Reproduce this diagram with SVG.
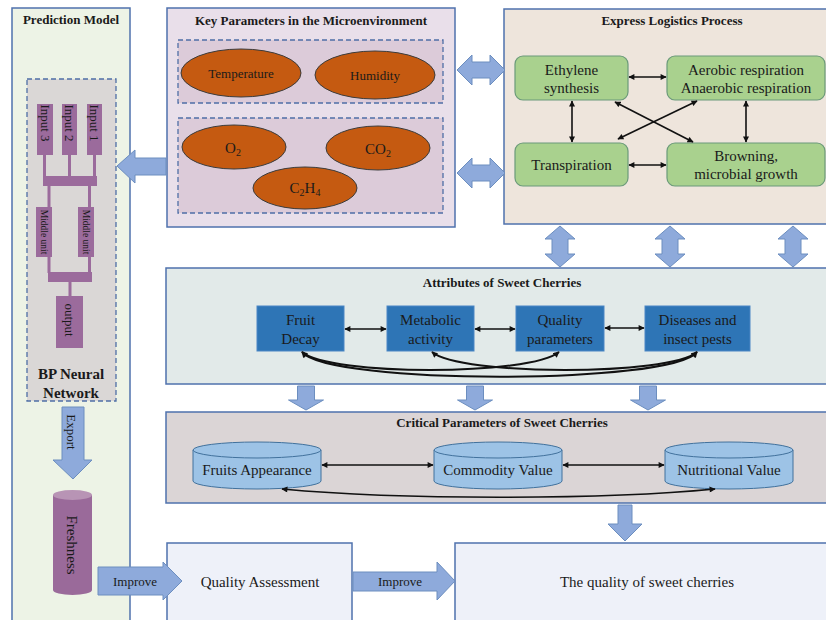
<svg xmlns="http://www.w3.org/2000/svg" width="826" height="620" viewBox="0 0 826 620" font-family="'Liberation Serif', 'Times New Roman', serif">
  <defs>
    <marker id="ah" viewBox="0 0 10 10" refX="9" refY="5" markerWidth="7" markerHeight="6" markerUnits="userSpaceOnUse" orient="auto-start-reverse">
      <path d="M0,0 L10,5 L0,10 z" fill="#111"/>
    </marker>
    <style>
      text { font-family: 'Liberation Serif', 'Times New Roman', serif; fill: #1a1a1a; }
      .title { font-size: 13px; font-weight: bold; text-anchor: middle; }
      .lbl { font-size: 15px; text-anchor: middle; dominant-baseline: central; }
      .sm { font-size: 13px; text-anchor: middle; dominant-baseline: central; }
      .panel { stroke: #4f72ad; stroke-width: 1.5; }
      .dash { stroke: #4f6fa6; stroke-width: 1.3; stroke-dasharray: 5 3; }
      .oval { fill: #c55a11; stroke: #3b3b3b; stroke-width: 1; }
      .green { fill: #a9d18e; stroke: #6b9a7a; stroke-width: 1.2; }
      .blue { fill: #2e75b6; stroke: #4a86c5; stroke-width: 1; }
      .cyl { fill: #9dc3e6; stroke: #41719c; stroke-width: 1; }
      .purple { fill: #9b6b9c; }
      .block { fill: #8eaadb; stroke: #6c8ebf; stroke-width: 1; }
      .link { fill: none; stroke: #111; stroke-width: 1.6; marker-start: url(#ah); marker-end: url(#ah); }
      .curve { fill: none; stroke: #111; stroke-width: 2; marker-start: url(#ah); marker-end: url(#ah); }
    </style>
  </defs>

  <rect width="826" height="620" fill="#ffffff"/>

  <!-- Left column: prediction model -->
  <g id="prediction-model">
    <rect class="panel" x="12" y="8" width="118" height="625" fill="#edf3e6"/>
    <text class="title" x="71" y="24">Prediction Model</text>
  </g>

  <g id="bp-network">
    <rect class="dash" x="27" y="79" width="89" height="322" fill="#dad7d6"/>
    <!-- inputs -->
    <rect class="purple" x="37" y="104" width="16" height="51"/>
    <rect class="purple" x="62" y="104" width="15" height="51"/>
    <rect class="purple" x="87" y="104" width="15" height="51"/>
    <text class="sm" transform="translate(45,123) rotate(90)">Input 3</text>
    <text class="sm" transform="translate(69.5,123) rotate(90)">Input 2</text>
    <text class="sm" transform="translate(94.5,123) rotate(90)">Input 1</text>
    <!-- stems into first bar -->
    <rect class="purple" x="43" y="155" width="3" height="22"/>
    <rect class="purple" x="68" y="155" width="3" height="22"/>
    <rect class="purple" x="93" y="155" width="3" height="22"/>
    <rect class="purple" x="43" y="176" width="54" height="10"/>
    <!-- stems to middle units -->
    <rect class="purple" x="47.5" y="186" width="3" height="21"/>
    <rect class="purple" x="88" y="186" width="3" height="21"/>
    <rect class="purple" x="36" y="207" width="16" height="50"/>
    <rect class="purple" x="78" y="207" width="16" height="50"/>
    <text transform="translate(44,232) rotate(90)" font-size="9.5" text-anchor="middle" dominant-baseline="central">Middle unit</text>
    <text transform="translate(86,232) rotate(90)" font-size="9.5" text-anchor="middle" dominant-baseline="central">Middle unit</text>
    <!-- stems into second bar -->
    <rect class="purple" x="47.5" y="257" width="3" height="16"/>
    <rect class="purple" x="88" y="257" width="3" height="16"/>
    <rect class="purple" x="48" y="272" width="44" height="10"/>
    <rect class="purple" x="68.5" y="282" width="3" height="14"/>
    <rect class="purple" x="56" y="296" width="27" height="52"/>
    <text class="sm" transform="translate(69.5,320) rotate(90)">output</text>
    <text x="71" y="379" font-size="15" font-weight="bold" text-anchor="middle">BP Neural</text>
    <text x="71" y="398" font-size="15" font-weight="bold" text-anchor="middle">Network</text>
  </g>

  <g id="freshness">
    <path d="M53,495 V590 A19.5,5 0 0 0 92,590 V495 Z" fill="#9a6a9a"/>
    <ellipse cx="72.5" cy="495" rx="19.5" ry="5" fill="#b894b5"/>
    <text class="lbl" transform="translate(72,545) rotate(90)">Freshness</text>
  </g>

  <!-- Microenvironment parameters -->
  <g id="key-parameters">
    <rect class="panel" x="167" y="8" width="288" height="219" fill="#e9dfea"/>
    <text class="title" x="311" y="25">Key Parameters in the Microenvironment</text>
    <rect class="dash" x="178" y="40" width="265" height="63" fill="#dccbd9"/>
    <rect class="dash" x="178" y="118" width="265" height="95" fill="#dccbd9"/>
  </g>
  <g id="temperature">
    <ellipse class="oval" cx="241" cy="73" rx="60" ry="24"/>
    <text class="sm" x="241" y="73">Temperature</text>
  </g>
  <g id="humidity">
    <ellipse class="oval" cx="375" cy="75" rx="60" ry="24"/>
    <text class="sm" x="375" y="75">Humidity</text>
  </g>
  <g id="o2">
    <ellipse class="oval" cx="234" cy="147" rx="52" ry="22"/>
    <text x="233" y="153" font-size="15" text-anchor="middle">O<tspan font-size="10" dy="3">2</tspan></text>
  </g>
  <g id="co2">
    <ellipse class="oval" cx="378" cy="148" rx="52" ry="22"/>
    <text x="378" y="154" font-size="15" text-anchor="middle">CO<tspan font-size="10" dy="3">2</tspan></text>
  </g>
  <g id="c2h4">
    <ellipse class="oval" cx="305" cy="188" rx="52" ry="21"/>
    <text x="305" y="193" font-size="15" text-anchor="middle">C<tspan font-size="10" dy="3">2</tspan><tspan dy="-3">H</tspan><tspan font-size="10" dy="3">4</tspan></text>
  </g>

  <!-- Logistics process -->
  <g id="express-logistics">
    <rect class="panel" x="504" y="9" width="330" height="215" fill="#eee5dc"/>
    <text class="title" x="672" y="25">Express Logistics Process</text>
  </g>
  <g id="ethylene">
    <rect class="green" x="515" y="56" width="113" height="44" rx="8"/>
    <text class="lbl" x="571.5" y="70">Ethylene</text>
    <text class="lbl" x="571.5" y="88">synthesis</text>
  </g>
  <g id="respiration">
    <rect class="green" x="667" y="56" width="158" height="44" rx="8"/>
    <text class="lbl" x="746" y="70">Aerobic respiration</text>
    <text class="lbl" x="746" y="88">Anaerobic respiration</text>
  </g>
  <g id="transpiration">
    <rect class="green" x="515" y="143" width="113" height="43" rx="8"/>
    <text class="lbl" x="571.5" y="165">Transpiration</text>
  </g>
  <g id="browning">
    <rect class="green" x="667" y="143" width="158" height="43" rx="8"/>
    <text class="lbl" x="746" y="156">Browning,</text>
    <text class="lbl" x="746" y="174">microbial growth</text>
  </g>

  <!-- Sweet cherry attributes -->
  <g id="attributes">
    <rect class="panel" x="166" y="268" width="670" height="116" fill="#e2eae9"/>
    <text class="title" x="502" y="287" font-size="12">Attributes of Sweet Cherries</text>
  </g>
  <g id="fruit-decay">
    <rect class="blue" x="257" y="306" width="87" height="45"/>
    <text class="lbl" x="300.5" y="320">Fruit</text>
    <text class="lbl" x="300.5" y="339">Decay</text>
  </g>
  <g id="metabolic">
    <rect class="blue" x="387" y="306" width="87" height="45"/>
    <text class="lbl" x="430.5" y="320">Metabolic</text>
    <text class="lbl" x="430.5" y="339">activity</text>
  </g>
  <g id="quality-parameters">
    <rect class="blue" x="516" y="306" width="88" height="45"/>
    <text class="lbl" x="560" y="320">Quality</text>
    <text class="lbl" x="560" y="339">parameters</text>
  </g>
  <g id="diseases">
    <rect class="blue" x="645" y="306" width="105" height="45"/>
    <text class="lbl" x="697.5" y="320">Diseases and</text>
    <text class="lbl" x="697.5" y="339">insect pests</text>
  </g>

  <!-- Critical parameters -->
  <g id="critical">
    <rect class="panel" x="166" y="412" width="670" height="91" fill="#dbd5d6"/>
    <text class="title" x="502" y="427" font-size="12">Critical Parameters of Sweet Cherries</text>
  </g>
  <g id="appearance">
    <path class="cyl" d="M193,450 V481 A64,8 0 0 0 321,481 V450 Z"/>
    <ellipse class="cyl" cx="257" cy="450" rx="64" ry="8"/>
    <text class="lbl" x="257" y="470">Fruits Appearance</text>
  </g>
  <g id="commodity">
    <path class="cyl" d="M434,450 V481 A64,8 0 0 0 562,481 V450 Z"/>
    <ellipse class="cyl" cx="498" cy="450" rx="64" ry="8"/>
    <text class="lbl" x="498" y="470">Commodity Value</text>
  </g>
  <g id="nutritional">
    <path class="cyl" d="M665,450 V481 A64,8 0 0 0 793,481 V450 Z"/>
    <ellipse class="cyl" cx="729" cy="450" rx="64" ry="8"/>
    <text class="lbl" x="729" y="470">Nutritional Value</text>
  </g>

  <!-- Outcomes -->
  <g id="quality-assessment">
    <rect class="panel" x="167" y="543" width="185" height="90" fill="#eef1f9"/>
    <text class="lbl" x="260" y="582">Quality Assessment</text>
  </g>
  <g id="cherry-quality">
    <rect class="panel" x="455" y="543" width="380" height="90" fill="#eef1f9"/>
    <text class="lbl" x="647" y="582">The quality of sweet cherries</text>
  </g>

  <!-- Connectors -->
  <g id="connectors">
    <!-- block arrows -->
    <polygon class="block" points="117,166 135,150 135,158 166,158 166,175 135,175 135,183"/>
    <polygon class="block" points="457,70 472,55 472,62 490,62 490,55 505,70 490,85 490,78 472,78 472,85"/>
    <polygon class="block" points="457,173 472,158 472,165 490,165 490,158 505,173 490,188 490,181 472,181 472,188"/>
    <polygon class="block" points="560,226 575,239 568,239 568,254 575,254 560,267 545,254 552,254 552,239 545,239"/>
    <polygon class="block" points="670,226 685,239 678,239 678,254 685,254 670,267 655,254 662,254 662,239 655,239"/>
    <polygon class="block" points="793,226 808,239 801,239 801,254 808,254 793,267 778,254 785,254 785,239 778,239"/>
    <polygon class="block" points="297.5,386 314.5,386 314.5,400 323.5,400 306,410 288.5,400 297.5,400"/>
    <polygon class="block" points="466.5,386 483.5,386 483.5,400 492.5,400 475,410 457.5,400 466.5,400"/>
    <polygon class="block" points="639.5,386 656.5,386 656.5,400 665.5,400 648,410 630.5,400 639.5,400"/>
    <polygon class="block" points="618,505 632,505 632,524 642,524 625,541 608,524 618,524"/>
    <polygon class="block" points="62,407 84,407 84,460 92,460 73,479 53,460 62,460"/>
    <text transform="translate(71,432) rotate(90)" font-size="13" text-anchor="middle" dominant-baseline="central">Export</text>
    <polygon class="block" points="98,567 163,567 163,562 182,581 163,600 163,595 98,595"/>
    <text class="sm" x="135" y="581">Improve</text>
    <polygon class="block" points="353,572 437,572 437,562 455,581 437,600 437,591 353,591"/>
    <text class="sm" x="400" y="581">Improve</text>

    <!-- logistics links -->
    <line class="link" x1="629" y1="77" x2="666" y2="77"/>
    <line class="link" x1="629" y1="165" x2="666" y2="165"/>
    <line class="link" x1="572" y1="101" x2="572" y2="142"/>
    <line class="link" x1="746" y1="101" x2="746" y2="142"/>
    <line class="link" x1="615" y1="102" x2="693" y2="142"/>
    <line class="link" x1="697" y1="101" x2="618" y2="139"/>

    <!-- attribute links -->
    <line class="link" x1="345" y1="329" x2="386" y2="329"/>
    <line class="link" x1="475" y1="329" x2="515" y2="329"/>
    <line class="link" x1="605" y1="328" x2="644" y2="328"/>
    <path class="curve" d="M302,352 C330,385 670,385 697,352"/>
    <path class="curve" d="M302,352 C330,376 530,376 559,352"/>
    <path class="curve" d="M432,352 C460,376 670,376 697,352"/>

    <!-- critical parameter links -->
    <line class="link" x1="322" y1="465" x2="433" y2="465"/>
    <line class="link" x1="563" y1="465" x2="664" y2="465"/>
    <path class="link" d="M282,489 C400,500 600,500 715,489"/>
  </g>
</svg>
